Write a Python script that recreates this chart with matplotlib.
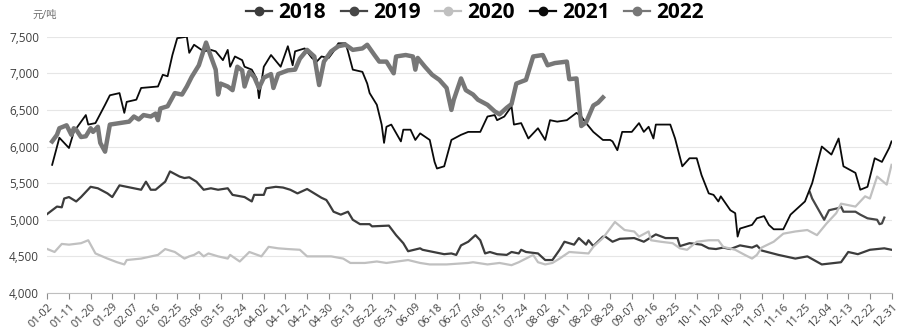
import matplotlib
matplotlib.use("Agg")
import matplotlib.pyplot as plt
from matplotlib.ticker import FuncFormatter

plt.rcParams['font.family'] = ['Open Sans', 'Noto Sans CJK SC', 'DejaVu Sans']

# x axis: trading-calendar day index (0..351), labelled every 9 days
tick_labels = ['01-02', '01-11', '01-20', '01-29', '02-07', '02-16', '02-25', '03-06',
               '03-15', '03-24', '04-02', '04-12', '04-21', '04-30', '05-13', '05-22',
               '05-31', '06-09', '06-18', '06-27', '07-06', '07-15', '07-24', '08-02',
               '08-11', '08-20', '08-29', '09-07', '09-16', '09-25', '10-11', '10-20',
               '10-29', '11-07', '11-16', '11-25', '12-04', '12-13', '12-22', '12-31']

day_2018 = [0, 2, 4, 6, 7, 9, 12, 14, 18, 21, 25, 27, 30, 36, 39, 41, 43, 45, 49, 51, 55, 57,
            59, 62, 65, 68, 71, 75, 77, 82, 85, 86, 90, 91, 95, 98, 101, 104, 108, 111, 114,
            116, 117, 119, 122, 125, 127, 130, 134, 135, 142, 145, 148, 150, 155, 156, 162,
            165, 168, 170, 172, 175, 178, 180, 182, 184, 187, 191, 193, 196, 197, 199, 204,
            207, 210, 213, 215, 219, 221, 224, 225, 227, 231, 232, 235, 238, 244, 248, 253,
            257, 262, 263, 267, 272, 275, 278, 281, 284, 288, 293, 295, 297, 304, 311, 316,
            322, 330, 333, 337, 342, 348, 351]
val_2018 = [5080, 5130, 5180, 5170, 5290, 5310, 5250, 5310, 5450, 5430, 5360, 5310, 5470,
            5430, 5410, 5520, 5410, 5410, 5520, 5660, 5590, 5570, 5580, 5520, 5410, 5430,
            5410, 5430, 5340, 5310, 5250, 5340, 5340, 5430, 5450, 5440, 5410, 5360, 5420,
            5360, 5300, 5270, 5220, 5110, 5070, 5110, 5000, 4940, 4940, 4910, 4920, 4790,
            4680, 4570, 4610, 4590, 4550, 4530, 4540, 4520, 4650, 4700, 4790, 4720, 4540,
            4560, 4530, 4520, 4560, 4540, 4590, 4560, 4540, 4450, 4450, 4590, 4700, 4660,
            4750, 4660, 4720, 4640, 4770, 4770, 4700, 4740, 4750, 4700, 4800, 4750, 4750,
            4640, 4680, 4660, 4610, 4600, 4620, 4600, 4650, 4620, 4650, 4580, 4520, 4470,
            4500, 4390, 4420, 4560, 4530, 4590, 4610, 4590]

day_2019 = [317, 318, 323, 325, 329, 330, 331, 336, 338, 341, 345, 346, 347, 348]
val_2019 = [5380, 5290, 5000, 5130, 5160, 5180, 5110, 5110, 5070, 5020, 5000, 4940, 4950, 5030]

day_2020 = [0, 3, 6, 9, 14, 17, 20, 25, 29, 32, 33, 39, 46, 49, 53, 57, 59, 61, 63, 65, 67,
            71, 75, 76, 80, 84, 89, 92, 96, 100, 105, 108, 112, 118, 123, 126, 132, 137, 141,
            150, 155, 159, 166, 175, 177, 183, 188, 193, 196, 202, 204, 207, 210, 213, 217,
            225, 227, 231, 236, 240, 244, 246, 250, 251, 255, 260, 263, 266, 270, 275, 279,
            281, 286, 290, 293, 295, 297, 302, 306, 311, 316, 320, 324, 328, 330, 336, 340,
            342, 345, 349, 351]
val_2020 = [4600, 4560, 4670, 4660, 4680, 4720, 4540, 4470, 4420, 4390, 4450, 4470, 4520,
            4600, 4560, 4470, 4500, 4520, 4560, 4500, 4540, 4500, 4470, 4520, 4430, 4560,
            4500, 4630, 4610, 4600, 4590, 4500, 4500, 4500, 4470, 4410, 4410, 4430, 4410,
            4450, 4410, 4390, 4390, 4410, 4420, 4390, 4410, 4380, 4420, 4520, 4420, 4390,
            4410, 4470, 4560, 4540, 4630, 4750, 4970, 4860, 4840, 4770, 4840, 4720, 4700,
            4680, 4610, 4590, 4700, 4720, 4720, 4630, 4590, 4520, 4470, 4520, 4620, 4700,
            4810, 4840, 4860, 4790, 4950, 5090, 5220, 5180, 5320, 5290, 5590, 5480, 5750]

day_2021 = [2, 5, 9, 11, 16, 17, 20, 24, 26, 30, 32, 33, 37, 39, 46, 48, 50, 52, 54, 58, 59,
            61, 65, 68, 70, 73, 75, 76, 78, 81, 82, 85, 87, 88, 90, 93, 97, 100, 102, 103,
            107, 110, 112, 114, 117, 119, 121, 124, 125, 127, 131, 133, 134, 137, 139, 140,
            141, 143, 147, 148, 151, 153, 155, 159, 161, 162, 165, 168, 172, 175, 180, 183,
            186, 187, 190, 193, 194, 197, 200, 204, 207, 209, 212, 216, 220, 222, 224, 227,
            231, 234, 235, 237, 239, 243, 246, 248, 250, 252, 253, 259, 261, 264, 267, 270,
            272, 275, 277, 279, 280, 284, 286, 287, 288, 293, 295, 298, 300, 302, 306, 309,
            315, 318, 322, 326, 329, 331, 336, 338, 341, 344, 347, 350, 351]
val_2021 = [5750, 6120, 5980, 6200, 6430, 6300, 6320, 6570, 6700, 6730, 6460, 6610, 6640,
            6800, 6820, 6980, 6960, 7250, 7480, 7500, 7280, 7390, 7300, 7320, 7300, 7180,
            7320, 7090, 7230, 7180, 7090, 7050, 6930, 6660, 7090, 7250, 7090, 7370, 7110,
            7300, 7340, 7210, 7160, 7230, 7210, 7300, 7410, 7410, 7300, 7050, 7020, 6860,
            6730, 6570, 6300, 6050, 6270, 6300, 6070, 6230, 6230, 6090, 6180, 6090, 5790,
            5700, 5730, 6090, 6160, 6200, 6200, 6410, 6430, 6360, 6410, 6550, 6300, 6320,
            6110, 6250, 6090, 6360, 6340, 6360, 6460, 6410, 6320, 6200, 6090, 6090, 6070,
            5950, 6200, 6200, 6320, 6200, 6270, 6110, 6300, 6300, 6110, 5730, 5840, 5840,
            5610, 5360, 5340, 5250, 5320, 5130, 5090, 4770, 4880, 4930, 5020, 5050, 4930,
            4870, 4870, 5070, 5250, 5500, 6000, 5890, 6110, 5730, 5640, 5410, 5450, 5840,
            5790, 5980, 6070]

day_2022 = [2, 4, 5, 8, 10, 11, 12, 14, 16, 18, 19, 21, 22, 24, 26, 30, 34, 36, 38, 40, 43,
            45, 46, 47, 50, 51, 53, 56, 58, 60, 63, 66, 68, 70, 71, 72, 75, 77, 79, 81, 82,
            84, 86, 88, 90, 93, 94, 96, 100, 103, 105, 108, 111, 113, 115, 118, 121, 124,
            127, 131, 133, 136, 138, 141, 144, 145, 149, 152, 153, 154, 157, 160, 163, 166,
            168, 169, 172, 174, 177, 179, 183, 186, 188, 191, 193, 195, 199, 202, 206, 208,
            211, 216, 217, 220, 222, 224, 227, 229, 231]
val_2022 = [6070, 6160, 6250, 6290, 6160, 6250, 6230, 6130, 6140, 6250, 6200, 6270, 6050,
            5930, 6300, 6320, 6340, 6410, 6370, 6430, 6410, 6450, 6360, 6520, 6550, 6610,
            6730, 6710, 6820, 6950, 7110, 7420, 7230, 7050, 6710, 6860, 6820, 6770, 7090,
            7040, 6820, 7020, 6950, 6800, 6940, 6990, 6800, 6990, 7040, 7050, 7200, 7320,
            7230, 6840, 7160, 7300, 7370, 7390, 7320, 7340, 7390, 7250, 7160, 7160, 7000,
            7230, 7250, 7230, 7050, 7210, 7090, 6980, 6910, 6800, 6500, 6640, 6930, 6770,
            6710, 6640, 6570, 6480, 6440, 6530, 6580, 6860, 6910, 7230, 7250, 7110, 7140,
            7160, 6920, 6930, 6280, 6330, 6560, 6600, 6670]

fig = plt.figure(figsize=(9, 3.34), dpi=100)
ax = fig.add_axes([0.0526, 0.1228, 0.938, 0.7673])

ax.plot(day_2018, val_2018, color='#3c3c3c', lw=1.6, label='2018', marker='o', markevery=[])
ax.plot(day_2019, val_2019, color='#464646', lw=1.6, label='2019', marker='o', markevery=[])
ax.plot(day_2020, val_2020, color='#c0c0c0', lw=1.6, label='2020', marker='o', markevery=[])
ax.plot(day_2021, val_2021, color='#0a0a0a', lw=1.3, label='2021', marker='o', markevery=[])
ax.plot(day_2022, val_2022, color='#777777', lw=3.2, label='2022', marker='o', markevery=[])

ax.set_xlim(0, 351)
ax.set_ylim(4000, 7500)
ax.set_yticks([4000, 4500, 5000, 5500, 6000, 6500, 7000, 7500])
ax.yaxis.set_major_formatter(FuncFormatter(lambda v, p: f'{int(v):,}'))
ax.set_xticks(range(0, 352, 9))
ax.set_xticklabels(tick_labels, rotation=45, ha='right', rotation_mode='anchor')

ax.grid(axis='y', color='#e6e6e6', lw=0.8)
ax.set_axisbelow(True)
for s in ['top', 'right', 'left']:
    ax.spines[s].set_visible(False)
ax.spines['bottom'].set_color('#bfbfbf')
ax.tick_params(axis='y', length=0, labelsize=8.5, labelcolor='#404040', pad=6)
ax.tick_params(axis='x', length=4, color='#8c8c8c', labelsize=8, labelcolor='#404040', pad=2)

fig.text(0.036, 0.955, '元/吨', fontsize=7.5, color='#707070', ha='left', va='center')

leg = fig.legend(loc='center', bbox_to_anchor=(0.528, 0.963), ncol=5, frameon=False,
                 handlelength=1.25, columnspacing=0.7, handletextpad=0.3,
                 prop={'size': 15, 'weight': 'bold'})
for h in leg.legend_handles:
    h.set_marker('o')
    h.set_markersize(6)
    h.set_linewidth(1.6)

fig.savefig('out.png', dpi=100)
